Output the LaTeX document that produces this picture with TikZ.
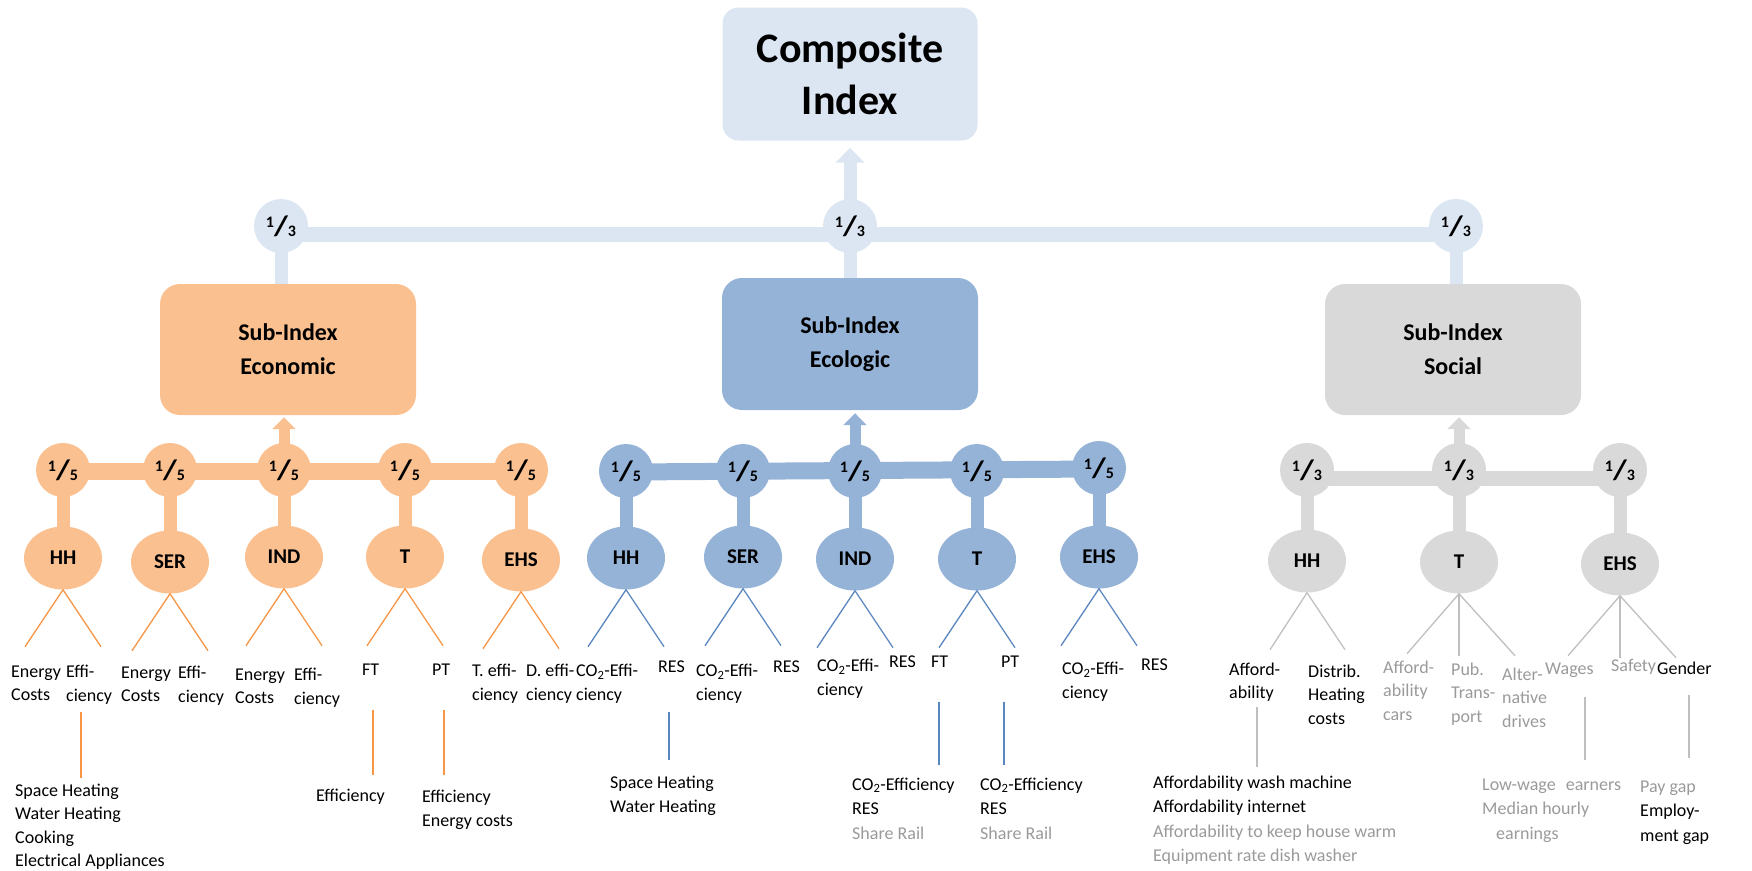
\documentclass[tikz,border=0pt]{standalone}
\usepackage{fontspec}
\usepackage{graphicx}
\setmainfont{Carlito}
\usetikzlibrary{arrows.meta,backgrounds,shapes.geometric,calc}

\definecolor{compc}{HTML}{DCE6F2}
\definecolor{ecoc}{HTML}{FAC090}
\definecolor{ecolc}{HTML}{95B3D7}
\definecolor{socc}{HTML}{D9D9D9}
\definecolor{ecoline}{HTML}{F79646}
\definecolor{ecolline}{HTML}{5B87C0}
\definecolor{socline}{HTML}{BFBFBF}
\definecolor{graytxt}{HTML}{9A9A9A}

\newcommand{\frc}[2]{\raisebox{7.5pt}{\fontsize{16}{16}\selectfont #1}{\fontsize{28}{28}\selectfont\scalebox{1.15}[1]{/}}\raisebox{-1pt}{\fontsize{16}{16}\selectfont #2}}

\tikzset{
  compbox/.style={fill=compc, rounded corners=16pt, minimum width=255pt, minimum height=133pt, align=center, inner sep=0pt, font=\bfseries\fontsize{42}{52}\selectfont},
  subbox/.style={rounded corners=20pt, minimum width=256pt, minimum height=131pt, align=center, inner sep=0pt, font=\bfseries\fontsize{24}{34}\selectfont},
  wcirc/.style={ellipse, minimum width=54pt, minimum height=54pt, inner sep=0pt, font=\bfseries\fontsize{26}{26}\selectfont},
  sect/.style={ellipse, minimum width=78pt, minimum height=63pt, inner sep=0pt, font=\bfseries\fontsize{21}{21}\selectfont},
  lbl/.style={anchor=north west, inner sep=0pt, align=left, yshift=12.7pt, font=\fontsize{18}{23.5}\selectfont, execute at begin node=\strut},
  lblone/.style={anchor=north west, inner sep=0pt, align=left, yshift=19.5pt, font=\fontsize{18}{23.5}\selectfont, execute at begin node=\strut},
  blk/.style={anchor=north west, inner sep=0pt, align=left, yshift=11.5pt, font=\fontsize{18}{24.5}\selectfont, execute at begin node=\strut},
  blkone/.style={anchor=north west, inner sep=0pt, align=left, yshift=16.8pt, font=\fontsize{18}{24.5}\selectfont, execute at begin node=\strut},
  gtx/.style={text=graytxt},
  thin/.style={line width=1.3pt},
}

\begin{document}
\begin{tikzpicture}[x=1pt,y=-1pt]
\useasboundingbox (0,0) rectangle (1752,870);

% ---------- top level ----------
\node[compbox] (comp) at (850,74) {Composite\\Index};
\node[wcirc, fill=compc] (t1) at (281,226) {\frc13};
\node[wcirc, fill=compc] (t2) at (850,226) {\frc13};
\node[wcirc, fill=compc] (t3) at (1456,226) {\frc13};

\node[subbox, fill=ecoc] (eco) at (288,349.5) {Sub-Index\\Economic};
\node[subbox, fill=ecolc, minimum height=132pt] (ecol) at (850,344) {Sub-Index\\Ecologic};
\node[subbox, fill=socc] (soc) at (1453,349.5) {Sub-Index\\Social};

% ---------- economic ----------
\node[wcirc, fill=ecoc] (e1) at (63,470) {\frc15};
\node[wcirc, fill=ecoc] (e2) at (170,470) {\frc15};
\node[wcirc, fill=ecoc] (e3) at (284,470) {\frc15};
\node[wcirc, fill=ecoc] (e4) at (405,470) {\frc15};
\node[wcirc, fill=ecoc] (e5) at (521,470) {\frc15};
\node[sect, fill=ecoc] (E1) at (63,558) {HH};
\node[sect, fill=ecoc] (E2) at (170,562) {SER};
\node[sect, fill=ecoc] (E3) at (284,557) {IND};
\node[sect, fill=ecoc] (E4) at (405,557) {T};
\node[sect, fill=ecoc] (E5) at (521,560) {EHS};

% ---------- ecologic ----------
\node[wcirc, fill=ecolc] (b1) at (626,471) {\frc15};
\node[wcirc, fill=ecolc] (b2) at (743,471) {\frc15};
\node[wcirc, fill=ecolc] (b3) at (855,471) {\frc15};
\node[wcirc, fill=ecolc] (b4) at (977,471) {\frc15};
\node[wcirc, fill=ecolc] (b5) at (1099,468) {\frc15};
\node[sect, fill=ecolc] (B1) at (626,558) {HH};
\node[sect, fill=ecolc] (B2) at (743,557) {SER};
\node[sect, fill=ecolc] (B3) at (855,559) {IND};
\node[sect, fill=ecolc] (B4) at (977,559) {T};
\node[sect, fill=ecolc] (B5) at (1099,557) {EHS};

% ---------- social ----------
\node[wcirc, fill=socc] (s1) at (1307,470) {\frc13};
\node[wcirc, fill=socc] (s2) at (1459,470) {\frc13};
\node[wcirc, fill=socc] (s3) at (1620,470) {\frc13};
\node[sect, fill=socc] (S1) at (1307,561) {HH};
\node[sect, fill=socc] (S2) at (1459,562) {T};
\node[sect, fill=socc] (S3) at (1620,564) {EHS};

% ---------- thick connectors ----------
\begin{scope}[on background layer]
  \draw[compc, line width=15pt] ([yshift=-8pt]t1.center) -- ([yshift=-8pt]t3.center);
  \draw[compc, line width=13pt] (t1.center) -- (t1.center |- eco.north);
  \draw[compc, line width=13pt] (t2.center) -- (t2.center |- ecol.north);
  \draw[compc, line width=13pt] (t3.center) -- (t3.center |- soc.north);
  \draw[compc, line width=13pt, -{Triangle[width=28pt,length=15pt]}] (t2.center) -- ($(comp.south)+(0,7)$);

  \draw[ecoc, line width=17pt] ([yshift=-1.5pt]e1.center) -- ([yshift=-1.5pt]e5.center);
  \foreach \i in {1,...,5} {\draw[ecoc, line width=13pt] (e\i.center) -- (E\i.center);}
  \draw[ecoc, line width=11pt, -{Triangle[width=23pt,length=12pt]}] (e3.center) -- ($(e3.center |- eco.south)+(0,2)$);

  \draw[ecolc, line width=17pt] ([yshift=-1pt]b1.center) -- ([yshift=-1pt]b5.center);
  \foreach \i in {1,...,5} {\draw[ecolc, line width=13pt] (b\i.center) -- (B\i.center);}
  \draw[ecolc, line width=11pt, -{Triangle[width=23pt,length=12pt]}] (b3.center) -- ($(b3.center |- ecol.south)+(0,3)$);

  \draw[socc, line width=15pt] ([yshift=-8pt]s1.center) -- ([yshift=-8pt]s3.center);
  \foreach \i in {1,2,3} {\draw[socc, line width=13pt] (s\i.center) -- (S\i.center);}
  \draw[socc, line width=11pt, -{Triangle[width=23pt,length=12pt]}] (s2.center) -- ($(s2.center |- soc.south)+(0,2)$);
\end{scope}

% ---------- thin fan lines ----------
\foreach \n in {E1,E2,E3,E4,E5} {\draw[ecoline, thin] ($(\n.south)+(-38,57)$) -- (\n.south) -- ($(\n.south)+(38,57)$);}
\foreach \n in {B1,B2,B3,B4,B5} {\draw[ecolline, thin] ($(\n.south)+(-38,57)$) -- (\n.south) -- ($(\n.south)+(38,57)$);}
\draw[socline, thin] ($(S1.south)+(-37,57)$) -- (S1.south) -- ($(S1.south)+(38,57)$);
\foreach \n in {S2,S3} {\draw[socline, thin] ($(\n.south)+(-52,60)$) -- (\n.south) -- ($(\n.south)+(56,62)$); \draw[socline, thin] (\n.south) -- ($(\n.south)+(0,62)$);}

% ---------- labels: economic ----------
\node[lbl] (l1) at (11,678) {Energy\\Costs};
\node[lbl] (l2) at (66,678) {Effi-\\ciency};
\node[lbl] (l3) at (121,679) {Energy\\Costs};
\node[lbl] (l4) at (178,679) {Effi-\\ciency};
\node[lbl] (l5) at (235,681) {Energy\\Costs};
\node[lbl] (l6) at (294,681) {Effi-\\ciency};
\node[lblone] (l7) at (362,678) {FT};
\node[lblone] (l8) at (432,678) {PT};
\node[lbl] (l9) at (472,677) {T. effi-\\ciency};
\node[lbl] (l10) at (526,677) {D. effi-\\ciency};

% ---------- labels: ecologic ----------
\node[lbl] (m1) at (576,677) {CO\textsubscript{2}-Effi-\\ciency};
\node[lblone] (m2) at (658,675) {RES};
\node[lbl] (m3) at (696,677) {CO\textsubscript{2}-Effi-\\ciency};
\node[lblone] (m4) at (773,675) {RES};
\node[lbl] (m5) at (817,672) {CO\textsubscript{2}-Effi-\\ciency};
\node[lblone] (m6) at (889,670) {RES};
\node[lblone] (m7) at (931,670) {FT};
\node[lblone] (m8) at (1001,670) {PT};
\node[lbl] (m9) at (1062,675) {CO\textsubscript{2}-Effi-\\ciency};
\node[lblone] (m10) at (1141,673) {RES};

% ---------- labels: social ----------
\node[lbl] (n1) at (1229,675) {Afford-\\ability};
\node[lbl] (n2) at (1308,677) {Distrib.\\Heating\\costs};
\node[lbl, gtx] (n3) at (1383,673) {Afford-\\ability\\cars};
\node[lbl, gtx] (n4) at (1451,675) {Pub.\\Trans-\\port};
\node[lbl, gtx] (n5) at (1502,680) {Alter-\\native\\drives};
\node[lblone, gtx] (n6) at (1545,677) {Wages};
\node[lblone, gtx] (n7) at (1611,674) {Safety};
\node[lblone] (n8) at (1657,677) {Gender};

% ---------- bottom blocks ----------
\node[blk, font=\fontsize{18}{23.5}\selectfont] (d1) at (15,795) {Space Heating\\Water Heating\\Cooking\\Electrical Appliances};
\node[blkone] (d2) at (316,801) {Efficiency};
\node[blk] (d3) at (422,801) {Efficiency\\Energy costs};
\node[blk] (d4) at (610,787) {Space Heating\\Water Heating};
\node[blk] (d5) at (852,789) {CO\textsubscript{2}-Efficiency\\RES\\{\color{graytxt}Share Rail}};
\node[blk] (d6) at (980,789) {CO\textsubscript{2}-Efficiency\\RES\\{\color{graytxt}Share Rail}};
\node[blk] (d7) at (1153,787) {Affordability wash machine\\Affordability internet\\{\color{graytxt}Affordability to keep house warm}\\{\color{graytxt}Equipment rate dish washer}};
\node[blk, gtx] (d8) at (1482,790) {Low-wage\hspace{6pt} earners\\Median hourly\\\hspace*{14pt}earnings};
\node[blk] (d9) at (1640,792) {{\color{graytxt}Pay gap}\\Employ-\\ment gap};

% ---------- vertical drop lines ----------
\coordinate (v1a) at (81,712);   \coordinate (v1b) at (81,778);
\coordinate (v2a) at (373,710);  \coordinate (v2b) at (373,775);
\coordinate (v3a) at (444,710);  \coordinate (v3b) at (444,775);
\coordinate (v4a) at (669,712);  \coordinate (v4b) at (669,760);
\coordinate (v5a) at (939,702);  \coordinate (v5b) at (939,765);
\coordinate (v6a) at (1004,702); \coordinate (v6b) at (1004,765);
\coordinate (v7a) at (1257,707); \coordinate (v7b) at (1257,767);
\coordinate (v8a) at (1585,697); \coordinate (v8b) at (1585,760);
\coordinate (v9a) at (1689,695); \coordinate (v9b) at (1689,758);
\foreach \k in {1,2,3} {\draw[ecoline, thin] (v\k a) -- (v\k b);}
\foreach \k in {4,5,6} {\draw[ecolline, thin] (v\k a) -- (v\k b);}
\foreach \k in {7,8,9} {\draw[socline, thin] (v\k a) -- (v\k b);}
\end{tikzpicture}
\end{document}
